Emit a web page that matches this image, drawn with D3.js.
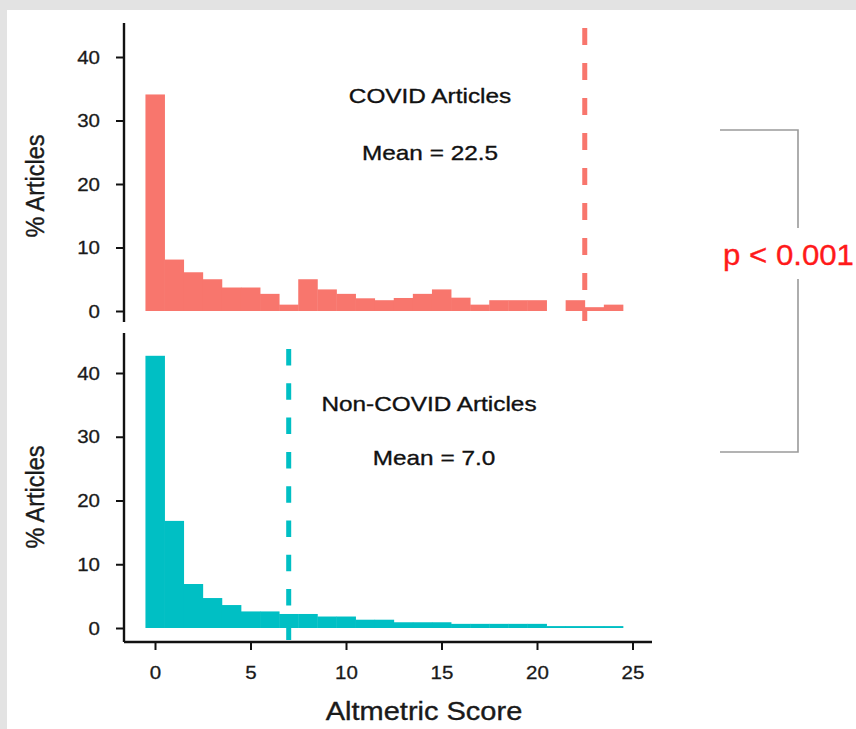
<!DOCTYPE html>
<html><head><meta charset="utf-8">
<script src="https://cdn.jsdelivr.net/npm/d3@7"></script>
<style>body{margin:0;background:#fff;} svg{display:block;}</style>
</head><body>
<script>
// ---- data ----
const binCenters = [0,1,2,3,4,5,6,7,8,9,10,11,12,13,14,15,16,17,18,19,20,21,22,23,24];
const covidPct    = [34.1,8.1,6.1,5.0,3.7,3.7,2.7,1.0,5.0,3.4,2.7,2.0,1.7,2.05,2.7,3.4,2.1,1.0,1.7,1.7,1.7,0,1.7,0.6,1.0];
const nonCovidPct = [42.7,16.8,6.9,4.7,3.6,2.6,2.6,2.2,2.2,1.8,1.8,1.3,1.3,0.9,0.9,0.9,0.65,0.65,0.65,0.65,0.65,0.3,0.3,0.3,0.3];
const xTicks = [0,5,10,15,20,25];
const yTicks = [0,10,20,30,40];
const covidMean = 22.5;
const nonCovidMean = 7.0;
const panelTitles = ["COVID Articles","Non-COVID Articles"];
const meanLabels = ["Mean = 22.5","Mean = 7.0"];
const yAxisTitle = "% Articles";
const xAxisTitle = "Altmetric Score";
const pLabel = "p < 0.001";

// ---- layout ----
const W = 856, H = 729;
const FONT = "'Liberation Sans', Arial, Helvetica, sans-serif";
const svg = d3.select("body").append("svg").attr("width", W).attr("height", H);
svg.append("rect").attr("width", W).attr("height", H).attr("fill", "#e3e3e3");
svg.append("rect").attr("x", 7).attr("y", 10).attr("width", W - 7).attr("height", H - 10).attr("fill", "#fff");

const axisX = 124;
const x = d3.scaleLinear().domain([0, 25]).range([155, 632.5]);

const panels = [
  { values: covidPct, mean: covidMean, color: "#F8766D",
    y: d3.scaleLinear().domain([0, 40]).range([311, 57]),
    axisTop: 23, axisBottom: 322, lineTop: 28, lineBottom: 321, dash: "17,18",
    title: panelTitles[0], meanLabel: meanLabels[0], titleX: 430, titleY: 103, meanX: 430, meanY: 160, ylabY: 186 },
  { values: nonCovidPct, mean: nonCovidMean, color: "#00BFC4",
    y: d3.scaleLinear().domain([0, 40]).range([628, 373]),
    axisTop: 333, axisBottom: 642, lineTop: 349, lineBottom: 642, dash: "16.5,17.8",
    title: panelTitles[1], meanLabel: meanLabels[1], titleX: 429, titleY: 411, meanX: 434, meanY: 465, ylabY: 497 }
];

function stext(g, tx, ty, str, size, sx, anchor, fill, rot) {
  return g.append("text")
    .attr("transform", `translate(${tx},${ty}) scale(${sx},1)` + (rot ? ` rotate(${rot})` : ""))
    .attr("text-anchor", anchor)
    .attr("font-size", size)
    .attr("font-family", FONT)
    .attr("fill", fill)
    .attr("stroke", fill).attr("stroke-width", 0.35)
    .text(str);
}

panels.forEach(p => {
  const g = svg.append("g");
  const data = binCenters.map((c, i) => ({ c, v: p.values[i] })).filter(d => d.v > 0);
  g.selectAll("rect.bar").data(data).join("rect")
    .attr("class", "bar")
    .attr("x", d => x(d.c - 0.5))
    .attr("width", d => x(d.c + 0.5) - x(d.c - 0.5) + 0.4)
    .attr("y", d => p.y(d.v))
    .attr("height", d => p.y(0) - p.y(d.v))
    .attr("fill", p.color);

  // mean line
  g.append("line")
    .attr("x1", x(p.mean)).attr("x2", x(p.mean))
    .attr("y1", p.lineTop).attr("y2", p.lineBottom)
    .attr("stroke", p.color).attr("stroke-width", 5)
    .attr("stroke-dasharray", p.dash);

  // y axis
  const ya = svg.append("g").attr("transform", `translate(${axisX},0)`)
    .call(d3.axisLeft(p.y).tickValues(yTicks).tickSize(8).tickPadding(16));
  ya.select(".domain").remove();
  ya.selectAll(".tick line").attr("stroke", "#111").attr("stroke-width", 2);
  ya.selectAll(".tick text")
    .attr("font-size", 19).attr("font-family", FONT).attr("fill", "#1a1a1a")
    .attr("stroke", "#1a1a1a").attr("stroke-width", 0.3)
    .attr("transform", "translate(-24,0) scale(1.08,1) translate(24,0)");
  ya.append("line").attr("x1", 0).attr("x2", 0).attr("y1", p.axisTop).attr("y2", p.axisBottom)
    .attr("stroke", "#111").attr("stroke-width", 2.4);

  // y title
  stext(svg, 44, p.ylabY, yAxisTitle, 23.5, 1.1, "middle", "#1a1a1a", -90);

  // annotations
  stext(svg, p.titleX, p.titleY, p.title, 21, 1.16, "middle", "#111");
  stext(svg, p.meanX, p.meanY, p.meanLabel, 21, 1.16, "middle", "#111");
});

// x axis
const xa = svg.append("g").attr("transform", `translate(0,642)`)
  .call(d3.axisBottom(x).tickValues(xTicks).tickSize(8).tickPadding(16));
xa.select(".domain").remove();
xa.selectAll(".tick line").attr("stroke", "#111").attr("stroke-width", 2);
xa.selectAll(".tick text")
  .attr("font-size", 19).attr("font-family", FONT).attr("fill", "#1a1a1a")
  .attr("stroke", "#1a1a1a").attr("stroke-width", 0.3)
  .attr("transform", "scale(1.08,1)");
xa.append("line").attr("x1", axisX).attr("x2", 652).attr("y1", 0).attr("y2", 0)
  .attr("stroke", "#111").attr("stroke-width", 2.4);

stext(svg, 424, 720, xAxisTitle, 25, 1.16, "middle", "#1a1a1a");

// bracket + p value
svg.append("path")
  .attr("d", "M720,130 H798 V228 M798,279 V452 H720")
  .attr("fill", "none").attr("stroke", "#9a9a9a").attr("stroke-width", 1.6);
stext(svg, 723, 265, pLabel, 30, 1.04, "start", "#ff1a1a");
</script>
</body></html>
